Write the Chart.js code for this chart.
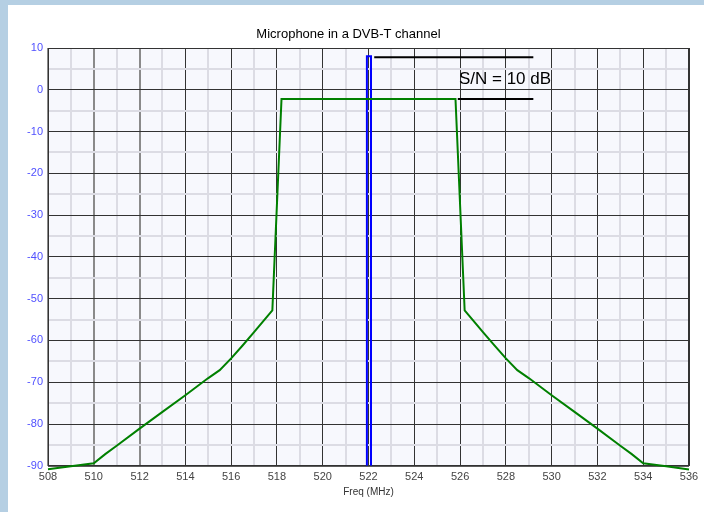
<!DOCTYPE html>
<html>
<head>
<meta charset="utf-8">
<script src="https://cdn.jsdelivr.net/npm/chart.js@4"></script>
<style>
  html, body { margin: 0; padding: 0; background: #b5cfe3; }
  #wrap { position: absolute; left: 8px; top: 5px; width: 696px; height: 507px; background: #fff; }
</style>
</head>
<body>
<div id="wrap"><canvas id="chart"></canvas></div>
<script>
// DVB-T channel spectrum (MHz, dB)
const freq = [508, 509, 510, 510.5, 511, 512, 513, 514, 515, 515.5, 516, 516.5, 517, 517.8, 518.2,
              525.8, 526.2, 527, 527.5, 528, 528.5, 529, 530, 531, 532, 533, 533.5, 534, 535, 536];
const level = [-90.8, -90.1, -89.4, -87.2, -85.2, -81.1, -77.1, -73.1, -69, -67.1, -64.3, -61.2, -58, -52.8, -2.2,
               -2.2, -52.8, -58, -61.2, -64.3, -67.1, -69, -73.1, -77.1, -81.1, -85.2, -87.2, -89.4, -90.1, -90.9];

// radio microphone carrier
const micFreq = [521.93, 521.93, 522.11, 522.11];
const micLevel = [-90, 8, 8, -90];

// S/N reference lines
const refTopFreq = [522.25, 529.2];
const refTopLevel = [7.8, 7.8];
const refLowFreq = [525.9, 529.2];
const refLowLevel = [-2.2, -2.2];
const snLabel = 'S/N = 10 dB';
const snPos = [525.95, 2.4];

const xLabels = [508, 510, 512, 514, 516, 518, 520, 522, 524, 526, 528, 530, 532, 534, 536];
const yLabels = [10, 0, -10, -20, -30, -40, -50, -60, -70, -80, -90];

const pts = (xs, ys) => xs.map((x, i) => ({x: x, y: ys[i]}));
const FONT = "Arial, 'Liberation Sans', sans-serif";

const plotBg = {
  id: 'plotBg',
  beforeDraw(chart) {
    const {ctx, chartArea: a} = chart;
    ctx.save();
    ctx.fillStyle = '#f7f8fd';
    ctx.fillRect(a.left, a.top, a.right - a.left, a.bottom - a.top);
    ctx.restore();
  },
  beforeDatasetsDraw(chart) {
    const {ctx, chartArea: a} = chart;
    ctx.save();
    ctx.strokeStyle = '#333';
    ctx.lineWidth = 1;
    ctx.strokeRect(a.left + 0.5, a.top + 0.5, a.right - a.left - 1, a.bottom - a.top);
    ctx.restore();
  },
  afterDatasetsDraw(chart) {
    const {ctx, scales} = chart;
    ctx.save();
    ctx.fillStyle = '#000';
    ctx.font = '17px ' + FONT;
    ctx.textBaseline = 'middle';
    ctx.textAlign = 'left';
    ctx.fillText(snLabel, scales.x.getPixelForValue(snPos[0]), scales.y.getPixelForValue(snPos[1]));
    ctx.restore();
  }
};

new Chart(document.getElementById('chart'), {
  type: 'scatter',
  data: {
    datasets: [
      {data: pts(freq, level), borderColor: '#008000', borderWidth: 2, clip: 6},
      {data: pts(micFreq, micLevel), borderColor: '#0000ff', borderWidth: 2},
      {data: pts(refTopFreq, refTopLevel), borderColor: '#000', borderWidth: 2},
      {data: pts(refLowFreq, refLowLevel), borderColor: '#000', borderWidth: 2}
    ]
  },
  options: {
    responsive: true,
    maintainAspectRatio: false,
    animation: false,
    showLine: true,
    elements: { point: { radius: 0 }, line: { tension: 0 } },
    layout: { padding: { left: 0, right: 15, top: 0, bottom: 14 } },
    plugins: {
      legend: { display: false },
      tooltip: { enabled: false },
      title: {
        display: true,
        text: 'Microphone in a DVB-T channel',
        color: '#000',
        font: { family: FONT, size: 13, weight: 'normal' },
        padding: { top: 22, bottom: 5.4 }
      }
    },
    scales: {
      x: {
        type: 'linear', min: 508, max: 536,
        grid: {
          drawTicks: false,
          color: c => c.tick.value % 2 ? '#dcdce4' : (c.tick.value <= 512 ? '#8a8a8a' : '#333'),
          lineWidth: c => c.tick.value % 2 ? 2 : (c.tick.value <= 512 ? 2 : 1)
        },
        border: { display: false },
        ticks: {
          stepSize: 1, autoSkip: false, maxRotation: 0, padding: 5,
          color: '#444', font: { family: FONT, size: 11 },
          callback: v => xLabels.includes(v) ? String(v) : ''
        },
        title: {
          display: true, text: 'Freq (MHz)', color: '#333',
          font: { family: FONT, size: 10 }, padding: { top: -3, bottom: 0 }
        }
      },
      y: {
        min: -90, max: 10,
        afterFit: s => { s.width = 40; },
        grid: {
          drawTicks: false,
          color: c => c.tick.value % 10 ? '#dcdce4' : '#333',
          lineWidth: c => c.tick.value % 10 ? 2 : 1
        },
        border: { display: false },
        ticks: {
          stepSize: 5, padding: 5, autoSkip: false,
          color: '#5050ff', font: { family: FONT, size: 11 },
          callback: v => yLabels.includes(v) ? String(v) : ''
        }
      }
    }
  },
  plugins: [plotBg]
});
</script>
</body>
</html>
